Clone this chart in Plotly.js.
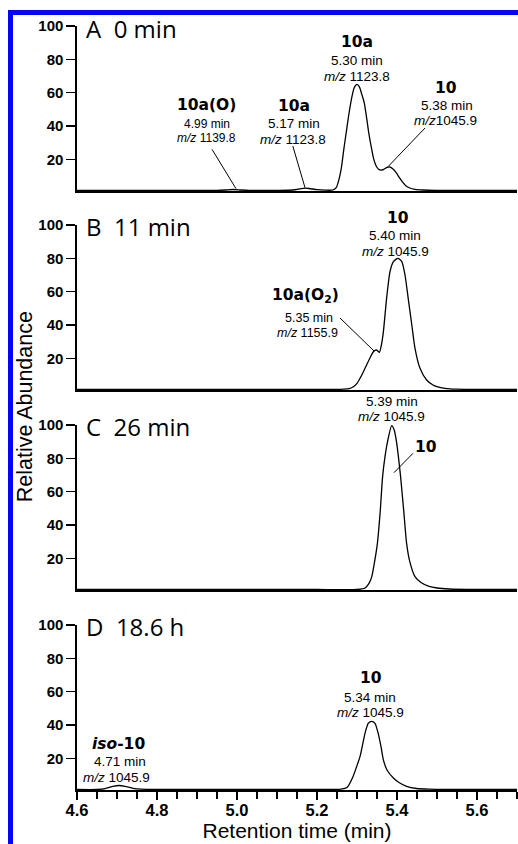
<!DOCTYPE html>
<html>
<head>
<meta charset="utf-8">
<script src="https://cdn.plot.ly/plotly-3.0.1.min.js"></script>
<style>
  html, body { margin: 0; padding: 0; background: #fff; overflow: hidden; }
  #wrap { position: relative; width: 518px; height: 844px; }
  #chart { position: absolute; left: 0; top: 0; width: 518px; height: 844px; }
  #frame { position: absolute; left: 8px; top: 10px; width: 510px; height: 834px;
           border-left: 5px solid #0505f5; border-top: 5px solid #0505f5; box-sizing: border-box; pointer-events: none; }
</style>
</head>
<body>
<div id="wrap"><div id="chart"></div><div id="frame"></div></div>
<script>
// ---- Data ----
const panelTitles = ['A\u00a0\u00a00 min', 'B\u00a0\u00a011 min', 'C\u00a0\u00a026 min', 'D\u00a0\u00a018.6 h'];

// Panel A: 0 min
const timeA = [4.60, 4.70, 4.80, 4.90, 4.95, 4.97, 4.99, 5.01, 5.03, 5.10, 5.14, 5.16, 5.17, 5.18, 5.20, 5.22,
  5.240, 5.248, 5.255, 5.261, 5.267, 5.273, 5.279, 5.286, 5.293, 5.300, 5.306, 5.312, 5.318, 5.324, 5.330,
  5.336, 5.342, 5.348, 5.354, 5.360, 5.367, 5.374, 5.382, 5.390, 5.398, 5.406, 5.414, 5.422, 5.432, 5.445,
  5.465, 5.50, 5.60, 5.70];
const abundA = [1.3, 1.3, 1.3, 1.3, 1.4, 1.6, 1.9, 1.6, 1.4, 1.4, 1.6, 2.4, 2.7, 2.5, 1.8, 1.5,
  1.6, 3, 8, 15, 26, 36, 46, 56, 63, 65, 63.5, 59, 54, 45, 35,
  27, 20, 16, 14, 13.5, 14, 15, 15.4, 14.2, 12, 9, 6.3, 4.2, 2.8, 2,
  1.6, 1.4, 1.3, 1.3];

// Panel B: 11 min
const timeB = [4.60, 4.70, 4.80, 4.90, 5.00, 5.10, 5.20, 5.26, 5.28, 5.29, 5.30, 5.3075, 5.316, 5.324, 5.333,
  5.341, 5.349, 5.356, 5.361, 5.366, 5.374, 5.3825, 5.391, 5.402, 5.412, 5.420, 5.428, 5.437, 5.445,
  5.4575, 5.474, 5.49, 5.50, 5.52, 5.55, 5.60, 5.70];
const abundB = [1.3, 1.3, 1.3, 1.3, 1.3, 1.3, 1.3, 1.4, 1.8, 2.8, 5, 8, 12, 16, 20.5,
  24, 25, 23.6, 28, 36, 56, 72, 78, 80, 78, 70, 56, 40, 26,
  14, 7, 4, 3, 2, 1.5, 1.3, 1.3];

// Panel C: 26 min
const timeC = [4.60, 4.70, 4.80, 4.90, 5.00, 5.10, 5.20, 5.30, 5.32, 5.33, 5.337, 5.344, 5.351, 5.358, 5.364,
  5.370, 5.376, 5.3867, 5.393, 5.399, 5.404, 5.409, 5.417, 5.424, 5.432, 5.445, 5.46, 5.48, 5.50, 5.53,
  5.60, 5.70];
const abundC = [1.3, 1.3, 1.3, 1.3, 1.3, 1.3, 1.3, 1.3, 2.2, 5, 9, 18, 29, 48, 69,
  81, 89.6, 99.6, 97, 89.6, 80, 69, 48, 29, 18, 9, 5.5, 3.2, 2.2, 1.6,
  1.3, 1.3];

// Panel D: 18.6 h
const timeD = [4.60, 4.65, 4.67, 4.69, 4.705, 4.72, 4.74, 4.76, 4.80, 4.90, 5.00, 5.10, 5.20, 5.26, 5.275,
  5.29, 5.299, 5.3075, 5.320, 5.328, 5.3367, 5.345, 5.353, 5.360, 5.366, 5.375, 5.391, 5.405, 5.424,
  5.449, 5.48, 5.55, 5.70];
const abundD = [1.3, 1.3, 1.8, 3.2, 3.7, 3.2, 2.0, 1.5, 1.3, 1.3, 1.3, 1.3, 1.3, 1.5, 2.5,
  9, 15, 21, 35, 41, 42.2, 41, 35, 27, 19, 13, 8.2, 5.5, 3.2,
  1.9, 1.5, 1.3, 1.3];

const yTickVals = [20, 40, 60, 80, 100];
const xTickVals = [4.6, 4.8, 5.0, 5.2, 5.4, 5.6];
const xTickText = ['4.6', '4.8', '5.0', '5.2', '5.4', '5.6'];

// Peak labels
const peakNames = ['10a(O)', '10a', '10a', '10', '10', '10a(O<sub>2</sub>)', '10', '<i>iso</i>-10', '10'];
const peakTimes = ['4.99 min', '5.17 min', '5.30 min', '5.38 min', '5.40 min', '5.35 min', '5.39 min', '4.71 min', '5.34 min'];
const peakMz = ['<i>m/z</i> 1139.8', '<i>m/z</i> 1123.8', '<i>m/z</i> 1123.8', '<i>m/z</i>1045.9', '<i>m/z</i> 1045.9',
  '<i>m/z</i> 1155.9', '<i>m/z</i> 1045.9', '<i>m/z</i> 1045.9', '<i>m/z</i> 1045.9'];

// ---- Layout ----
const panels = [
  {t: timeA, a: abundA}, {t: timeB, a: abundB}, {t: timeC, a: abundC}, {t: timeD, a: abundD}
];
const domains = [[0.78403, 1], [0.52356, 0.73953], [0.26178, 0.47775], [0, 0.21597]];
const yRange = [1, 100];
const toDom = v => (v - yRange[0]) / (yRange[1] - yRange[0]);

const traces = panels.map((p, i) => ({
  x: p.t, y: p.a, type: 'scatter', mode: 'lines',
  line: {color: '#000', width: 1.3, shape: 'spline', smoothing: 0.6},
  xaxis: 'x' + (i ? i + 1 : ''), yaxis: 'y' + (i ? i + 1 : ''),
  hoverinfo: 'skip', showlegend: false
}));

const layout = {
  width: 518, height: 844,
  margin: {l: 77, r: 1, t: 26, b: 54},
  paper_bgcolor: '#fff', plot_bgcolor: 'rgba(0,0,0,0)',
  font: {family: 'Liberation Sans, Arial, sans-serif', color: '#000'},
  showlegend: false,
  annotations: [], shapes: []
};

for (let i = 0; i < 4; i++) {
  const s = i ? String(i + 1) : '';
  const isBottom = i === 3;
  layout['xaxis' + s] = {
    domain: [0, 1], anchor: 'y' + s, range: [4.6, 5.7],
    showgrid: false, zeroline: false, showline: true, linecolor: '#000', linewidth: 1.6,
    ticks: isBottom ? 'outside' : '', ticklen: 8, tickwidth: 1.5, tickcolor: '#000',
    tickmode: 'array', tickvals: xTickVals, ticktext: xTickText,
    showticklabels: isBottom, ticklabelstandoff: -3,
    tickfont: {family: 'Liberation Sans, Arial, sans-serif', size: 16.5, weight: 'bold', color: '#000'},
    minor: isBottom ? {tickmode: 'linear', tick0: 4.6, dtick: 0.05, ticks: 'outside', ticklen: 7, tickwidth: 1.3, tickcolor: '#000', showgrid: false} : undefined,
    fixedrange: true
  };
  if (isBottom) {
    layout['xaxis' + s].title = {text: 'Retention time (min)', font: {family: 'Liberation Sans, Arial, sans-serif', size: 21, color: '#000'}, standoff: 4};
  }
  layout['yaxis' + s] = {
    domain: domains[i], anchor: 'x' + s, range: yRange,
    showgrid: false, zeroline: false, showline: true, linecolor: '#000', linewidth: 1.6,
    ticks: 'outside', ticklen: 9, tickwidth: 1.5, tickcolor: '#000',
    tickmode: 'array', tickvals: yTickVals,
    tickfont: {family: 'Liberation Sans, Arial, sans-serif', size: 15, weight: 'bold', color: '#000'},
    fixedrange: true
  };
  // panel title
  layout.annotations.push({
    xref: 'x' + s, yref: 'y' + s + ' domain', x: 4.617, y: toDom(98.8), xanchor: 'left', yanchor: 'middle',
    text: panelTitles[i], showarrow: false,
    font: {family: 'Open Sans, sans-serif', size: 24, color: '#000'}
  });
}

// Label placement: [panel, xName, yName, xTime, yTime, xMz, yMz, fontSize]
const labelPos = [
  [0, 4.9225, 52.6, 4.926, 41.2, 4.924, 32.8, 12],
  [0, 5.1425, 52.0, 5.143, 41.5, 5.140, 32.2, 13.5],
  [0, 5.300, 90.4, 5.301, 79.3, 5.300, 70.0, 13.5],
  [0, 5.5225, 63.1, 5.525, 52.6, 5.521, 43.3, 13.5],
  [1, 5.4025, 104.2, 5.396, 93.4, 5.395, 84.1, 13.5],
  [1, 5.170, 57.4, 5.180, 43.9, 5.176, 35.2, 12.5],
  [2, 5.4725, 87.0, 5.3875, 114.1, 5.3867, 104.8, 13.5],
  [3, 4.704, 28.6, 4.7075, 17.8, 4.699, 8.5, 13.5],
  [3, 5.335, 68.2, 5.3325, 56.5, 5.3325, 47.2, 13.5]
];

labelPos.forEach((p, k) => {
  const s = p[0] ? String(p[0] + 1) : '';
  const yr = 'y' + s + ' domain';
  layout.annotations.push({xref: 'x' + s, yref: yr, x: p[1], y: toDom(p[2]), showarrow: false, borderpad: 0,
    text: '<b>' + peakNames[k] + '</b>', xanchor: 'center', yanchor: 'middle',
    font: {family: 'DejaVu Sans, sans-serif', size: 15.5, color: '#000'}});
  layout.annotations.push({xref: 'x' + s, yref: yr, x: p[3], y: toDom(p[4]), showarrow: false, borderpad: 0,
    text: peakTimes[k], xanchor: 'center', yanchor: 'middle',
    font: {family: 'Liberation Sans, Arial, sans-serif', size: p[7], color: '#000'}});
  layout.annotations.push({xref: 'x' + s, yref: yr, x: p[5], y: toDom(p[6]), showarrow: false, borderpad: 0,
    text: peakMz[k], xanchor: 'center', yanchor: 'middle',
    font: {family: 'Liberation Sans, Arial, sans-serif', size: p[7], color: '#000'}});
});

// Leader lines [panel, x0, y0, x1, y1]
const leaders = [
  [0, 4.9375, 26.0, 4.9975, 2.4],
  [0, 5.1395, 28.0, 5.170, 3.0],
  [0, 5.470, 38.8, 5.3775, 15.6],
  [1, 5.2575, 44.2, 5.3425, 24.4],
  [2, 5.440, 83.0, 5.3925, 71.4]
];
leaders.forEach(l => {
  const s = l[0] ? String(l[0] + 1) : '';
  layout.shapes.push({type: 'line', xref: 'x' + s, yref: 'y' + s, x0: l[1], y0: l[2], x1: l[3], y1: l[4],
    line: {color: '#000', width: 1}});
});

// Shared y-axis title
layout.annotations.push({xref: 'paper', yref: 'paper', x: -0.118, y: 0.501, xanchor: 'center', yanchor: 'middle',
  text: 'Relative Abundance', textangle: -90, showarrow: false,
  font: {family: 'Liberation Sans, Arial, sans-serif', size: 21.5, color: '#000'}});

Plotly.newPlot('chart', traces, layout, {displayModeBar: false, staticPlot: true});
</script>
</body>
</html>
